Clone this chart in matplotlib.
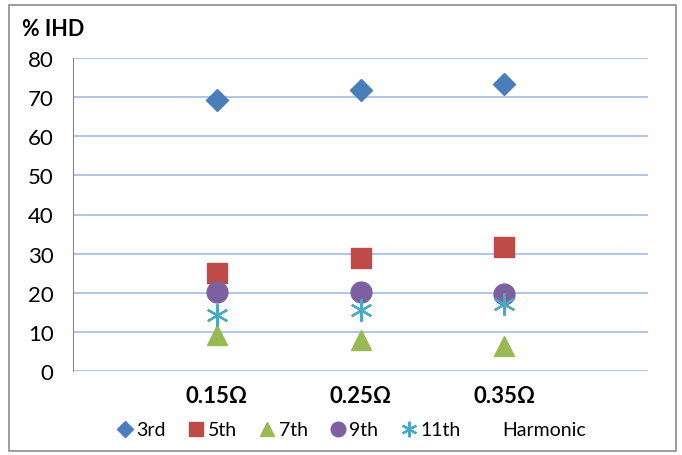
import matplotlib
matplotlib.use("Agg")
import matplotlib.pyplot as plt
from matplotlib.patches import Rectangle

plt.rcParams['font.family'] = ['Lato', 'DejaVu Sans']

categories = ["0.15Ω", "0.25Ω", "0.35Ω"]
h3 = [69.3, 71.8, 73.4]
h5 = [25.1, 28.9, 31.7]
h7 = [9.2, 7.9, 6.4]
h9 = [20.2, 20.2, 19.7]
h11 = [14.3, 15.6, 17.1]

fig = plt.figure(figsize=(6.82, 4.56), dpi=100)
ax = fig.add_axes([73/682, 1 - 372/456, (648-73)/682, (372-59)/456])

# outer chart border
fig.patches.append(Rectangle((9/682, 4/456), 667/682, 446/456, transform=fig.transFigure,
                             fill=False, edgecolor='#8c8c8c', linewidth=1.2))

x = [1, 2, 3]
ax.plot(x, h3, linestyle='none', marker='D', markersize=11, color='#4a7ebb', label='3rd')
ax.plot(x, h5, linestyle='none', marker='s', markersize=14, color='#be4b48', label='5th')
ax.plot(x, h7, linestyle='none', marker='^', markersize=15, color='#98b954', label='7th')
ax.plot(x, h9, linestyle='none', marker='o', markersize=15, color='#7d60a0', label='9th')
ax.plot(x, h11, linestyle='none', marker=(6, 2, 0), markersize=16, markeredgewidth=1.6,
        color='#46aac5', label='11th')
ax.plot([], [], linestyle='none', marker='none', label='Harmonic')

ax.set_xlim(0, 4)
ax.set_ylim(0, 80)
ax.set_yticks(range(0, 81, 10))
ax.set_xticks(x)
ax.set_xticklabels(categories, fontweight='bold', fontsize=16)
ax.tick_params(axis='y', labelsize=16, length=0, pad=14)
ax.tick_params(axis='x', length=0, pad=10)
ax.grid(axis='y', color='#a9c1e6', linewidth=1.3)
ax.set_axisbelow(True)
for s in ['top', 'right', 'bottom']:
    ax.spines[s].set_visible(False)
ax.spines['left'].set_color('#868686')

fig.text(22/682, 1 - 30/456, "% IHD", fontsize=15.5, fontweight='bold', va='center', ha='left')

fig.legend(loc='center', bbox_to_anchor=(350/682, 1 - 431/456), ncol=6, frameon=False,
           fontsize=14, handletextpad=0.05, columnspacing=1.0, handlelength=1.1,
           markerscale=0.7)

fig.savefig("out.png", dpi=100)
